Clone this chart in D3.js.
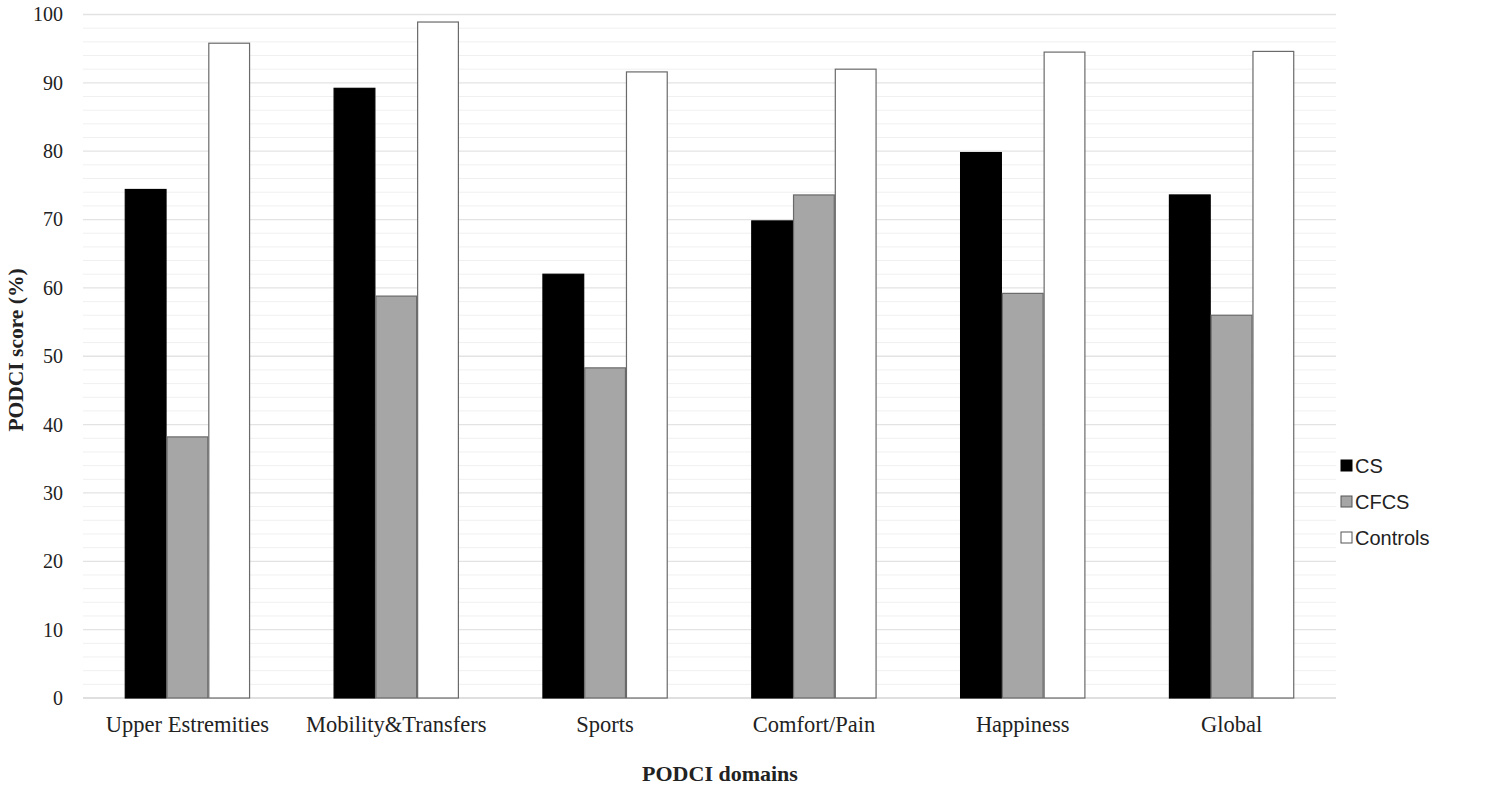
<!DOCTYPE html>
<html><head><meta charset="utf-8">
<script src="https://cdn.jsdelivr.net/npm/d3@7/dist/d3.min.js"></script>
<style>body{margin:0;background:#fff}svg{display:block}text{font-family:"Liberation Serif","Times New Roman",serif;fill:#222}</style>
</head><body><svg id="c" width="1510" height="786"></svg>
<script>
const categories = ["Upper Estremities","Mobility&Transfers","Sports","Comfort/Pain","Happiness","Global"];
const seriesNames = ["CS","CFCS","Controls"];
const csValues = [74.4, 89.2, 62.0, 69.8, 79.8, 73.6];
const cfcsValues = [38.2, 58.8, 48.3, 73.6, 59.2, 56.0];
const controlValues = [95.8, 98.9, 91.6, 92.0, 94.5, 94.6];
const yTicks = [0,10,20,30,40,50,60,70,80,90,100];
const colors = ["#000000","#a6a6a6","#ffffff"];

const series = [csValues, cfcsValues, controlValues];
const svg = d3.select("#c");
const L=83, R=1336, T=14.5, B=698;
const x = d3.scaleBand().domain(categories).range([L,R]).padding(0);
const inner = d3.scaleBand().domain(seriesNames).range([0, x.bandwidth()*0.6]);
const off = x.bandwidth()*0.2;
const y = d3.scaleLinear().domain([0,100]).range([B,T]);

// minor gridlines
const minor = d3.range(0,101,2).filter(v=>v%10!==0);
svg.append("g").selectAll("line").data(minor).join("line")
  .attr("x1",L).attr("x2",R).attr("y1",d=>y(d)).attr("y2",d=>y(d))
  .attr("stroke","#f0f0f0").attr("stroke-width",1);
svg.append("g").selectAll("line").data(yTicks).join("line")
  .attr("x1",L).attr("x2",R).attr("y1",d=>y(d)).attr("y2",d=>y(d))
  .attr("stroke",d=>d===0?"#d4d4d4":"#e3e3e3").attr("stroke-width",1.3);

// bars
categories.forEach((c,i)=>{
  seriesNames.forEach((s,j)=>{
    const v = series[j][i];
    svg.append("rect")
      .attr("x", x(c)+off+inner(s)+0.5)
      .attr("y", y(v))
      .attr("width", inner.bandwidth()-1)
      .attr("height", y(0)-y(v))
      .attr("fill", colors[j])
      .attr("stroke", j===0?"#000":"#6a6a6a").attr("stroke-width",1.2);
  });
});

// y axis labels
const yAxis = d3.axisLeft(y).tickValues(yTicks).tickSize(0).tickPadding(0);
const ga = svg.append("g").attr("transform",`translate(${63},0)`).call(yAxis);
ga.select(".domain").remove();
ga.selectAll("text").style("font-size","20px").attr("fill","#222").attr("font-family","Liberation Serif, serif");

// x axis labels
const xAxis = d3.axisBottom(x).tickSize(0).tickPadding(0);
const gx = svg.append("g").attr("transform",`translate(0,${716})`).call(xAxis);
gx.select(".domain").remove();
gx.selectAll("text").style("font-size","22.5px").attr("fill","#222").attr("font-family","Liberation Serif, serif");

// axis titles
svg.append("text").attr("x",720).attr("y",781).attr("text-anchor","middle")
  .style("font-size","22px").style("font-weight","bold").text("PODCI domains");
svg.append("text").attr("transform",`translate(23,${350}) rotate(-90)`).attr("text-anchor","middle")
  .style("font-size","21.5px").style("font-weight","bold").text("PODCI score (%)");

// legend
const lg = svg.append("g");
seriesNames.forEach((s,j)=>{
  const yy = 466 + j*36;
  lg.append("rect").attr("x",1341).attr("y",yy-6).attr("width",11).attr("height",11)
    .attr("fill",colors[j]).attr("stroke",j===0?"#000":"#555").attr("stroke-width",1);
  lg.append("text").attr("x",1355).attr("y",yy+7).style("font-size","20px")
    .style("font-family","Liberation Sans, Arial, sans-serif").text(s);
});
</script></body></html>
